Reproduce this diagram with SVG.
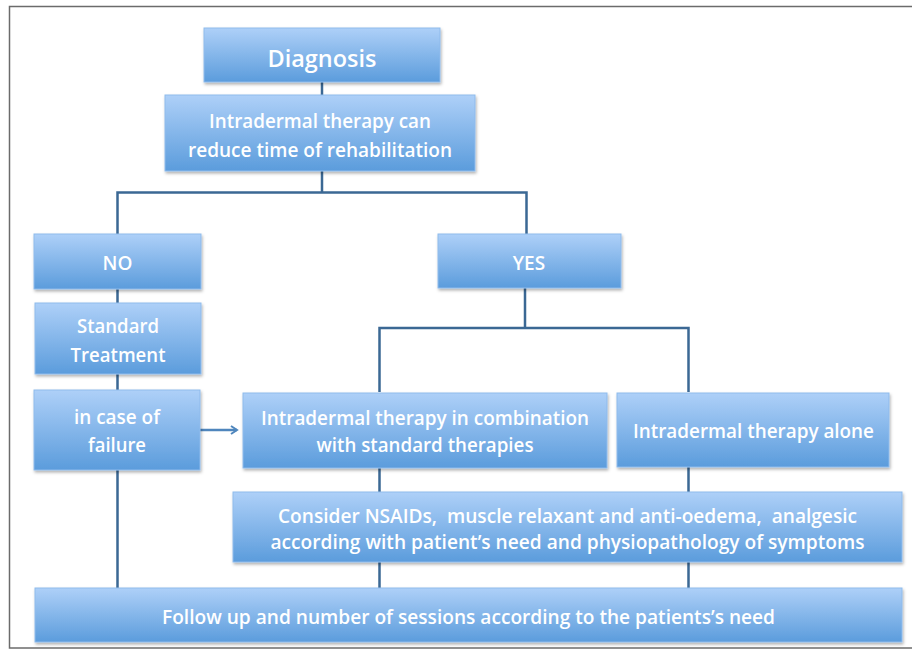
<svg xmlns="http://www.w3.org/2000/svg" width="912" height="650" viewBox="0 0 912 650">
<defs>
<linearGradient id="g" x1="0" y1="0" x2="0" y2="1">
<stop offset="0" stop-color="#aed0f8"/>
<stop offset="1" stop-color="#5b9cdc"/>
</linearGradient>
<filter id="sh" x="-5%" y="-10%" width="110%" height="130%">
<feDropShadow dx="1" dy="2" stdDeviation="1.5" flood-color="#000" flood-opacity="0.3"/>
</filter>
<marker id="arr" markerWidth="10" markerHeight="10" refX="8" refY="5" orient="auto" markerUnits="userSpaceOnUse">
<path d="M2,1 L8,5 L2,9" fill="none" stroke="#4f86bd" stroke-width="2"/>
</marker>
</defs>
<style>
.box{fill:url(#g);stroke:#8fbbec;stroke-width:1;filter:url(#sh)}
.t{fill:#fff;font-family:"Open Sans","Liberation Sans",sans-serif;font-size:19px;font-weight:600;text-anchor:middle;white-space:pre}
.big{font-size:24px}
.c{fill:none;stroke:#3b6894;stroke-width:2.5}
</style>
<rect x="0" y="0" width="912" height="650" fill="#fff"/>
<rect x="9.5" y="6.5" width="910" height="641.5" fill="none" stroke="#6b6b6b" stroke-width="1.5"/>
<g id="connectors">
<path class="c" d="M322,82 V95"/>
<path class="c" d="M322,171 V192.5 M117.5,234 V192.5 H526.5 V234"/>
<path class="c" d="M117.5,289 V303 M117.5,374 V390 M117.5,470 V588"/>
<path class="c" d="M525,288 V328 M379.5,392 V328 H688.5 V392"/>
<path class="c" d="M379.5,468 V492 M688.5,467 V492 M379.5,562 V588 M688.5,562 V588"/>
<path d="M200,430 H237" fill="none" stroke="#4f86bd" stroke-width="2.5" marker-end="url(#arr)"/>
</g>
<g id="diagnosis">
<rect class="box" x="204" y="28" width="236" height="54"/>
<text class="t big" x="322" y="67" textLength="109" lengthAdjust="spacingAndGlyphs">Diagnosis</text>
</g>
<g id="reduce">
<rect class="box" x="165" y="95" width="310" height="76"/>
<text class="t" x="320" y="128" textLength="222" lengthAdjust="spacingAndGlyphs">Intradermal therapy can</text>
<text class="t" x="320" y="157" textLength="264" lengthAdjust="spacingAndGlyphs">reduce time of rehabilitation</text>
</g>
<g id="no">
<rect class="box" x="34" y="234" width="167" height="55"/>
<text class="t" x="117.5" y="270">NO</text>
</g>
<g id="yes">
<rect class="box" x="438" y="234" width="183" height="54"/>
<text class="t" x="529" y="270">YES</text>
</g>
<g id="standard">
<rect class="box" x="35" y="303" width="166" height="71"/>
<text class="t" x="118" y="333" textLength="82" lengthAdjust="spacingAndGlyphs">Standard</text>
<text class="t" x="118" y="362" textLength="95" lengthAdjust="spacingAndGlyphs">Treatment</text>
</g>
<g id="failure">
<rect class="box" x="34" y="390" width="166" height="80"/>
<text class="t" x="117" y="424" textLength="86" lengthAdjust="spacingAndGlyphs">in case of</text>
<text class="t" x="117" y="452" textLength="58" lengthAdjust="spacingAndGlyphs">failure</text>
</g>
<g id="combination">
<rect class="box" x="243" y="393" width="364" height="75"/>
<text class="t" x="425" y="425" textLength="328" lengthAdjust="spacingAndGlyphs">Intradermal therapy in combination</text>
<text class="t" x="425" y="452" textLength="217" lengthAdjust="spacingAndGlyphs">with standard therapies</text>
</g>
<g id="alone">
<rect class="box" x="617" y="393" width="272" height="74"/>
<text class="t" x="753.5" y="438" textLength="241" lengthAdjust="spacingAndGlyphs">Intradermal therapy alone</text>
</g>
<g id="nsaids">
<rect class="box" x="233" y="492" width="669" height="70"/>
<text class="t" x="567.5" y="523" textLength="579" lengthAdjust="spacingAndGlyphs">Consider NSAIDs,  muscle relaxant and anti-oedema,  analgesic</text>
<text class="t" x="567.5" y="549" textLength="594" lengthAdjust="spacingAndGlyphs">according with patient’s need and physiopathology of symptoms</text>
</g>
<g id="followup">
<rect class="box" x="35" y="588" width="867" height="54"/>
<text class="t" x="468.5" y="624" textLength="613" lengthAdjust="spacingAndGlyphs">Follow up and number of sessions according to the patients’s need</text>
</g>
</svg>
